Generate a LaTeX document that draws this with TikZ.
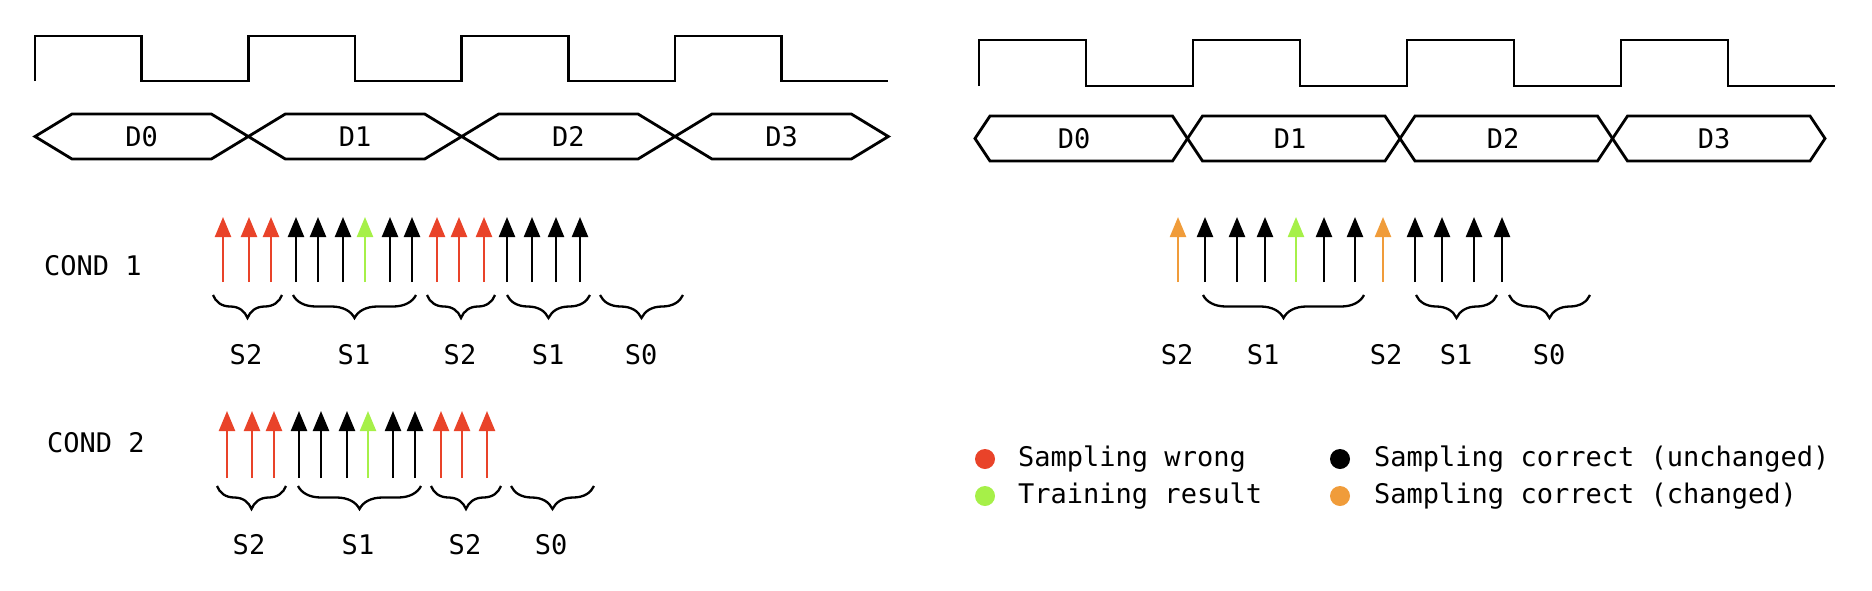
\documentclass[tikz,border=0pt]{standalone}
\usepackage{fontspec}
\setmonofont{DejaVu Sans Mono}
\usepackage{xcolor}
\usetikzlibrary{arrows.meta,decorations.pathreplacing}

\definecolor{wrongred}{RGB}{233,67,41}
\definecolor{trainlime}{RGB}{166,240,72}
\definecolor{changeorg}{RGB}{240,156,58}

\begin{document}
\begin{tikzpicture}[x=1pt,y=-1pt,
  sig/.style={line width=2.8pt, line join=miter},
  samp/.style={line width=2.3pt, -{Triangle[length=20pt,width=16pt]}},
  brc/.style={decorate, decoration={brace,mirror,amplitude=23pt}, line width=2.3pt},
  txt/.style={font=\ttfamily\fontsize{27}{31}\selectfont, inner sep=0pt}]

\useasboundingbox (0,0) rectangle (1872,590);

% Left panel: clock and data bus
\draw[sig] (35,81) \foreach \i in {1,...,4} { -- ++(0,-45) -- ++(106.67,0) -- ++(0,45) -- ++(106.67,0) };
\foreach \k in {0,...,3} {
  \draw[sig] ({35+213.33*\k},136.5) -- ++(37,-22.5) -- ++(139.33,0) -- ++(37,22.5)
    -- ++(-37,22.5) -- ++(-139.33,0) -- cycle;
  \node[txt] (ld\k) at ({141.7+213.33*\k},136.5) {D\k};
}

% COND 1 sampling points
\node[txt, anchor=west] (cond1) at (44,265.5) {COND 1};
\foreach \x/\col in {223/wrongred, 249/wrongred, 271/wrongred, 296/black, 318/black, 343/black,
    365/trainlime, 390/black, 412/black, 437/wrongred, 459/wrongred, 484/wrongred,
    507/black, 532/black, 556/black, 580/black}{
  \draw[samp, draw=\col] (\x,282) -- (\x,217);
}
\draw[brc] (213,295) -- (282,295);
\draw[brc] (293,295) -- (416,295);
\draw[brc] (427,295) -- (495,295);
\draw[brc] (507,295) -- (590,295);
\draw[brc] (600,295) -- (683,295);
\foreach \x/\s [count=\n] in {246/S2, 354/S1, 460/S2, 548/S1, 641/S0}
  \node[txt] (ca\n) at (\x,355) {\s};

% COND 2 sampling points
\node[txt, anchor=west] (cond2) at (47,443) {COND 2};
\foreach \x/\col in {227/wrongred, 252/wrongred, 274/wrongred, 299/black, 321/black, 347/black,
    368/trainlime, 393/black, 415/black, 441/wrongred, 462/wrongred, 487/wrongred}{
  \draw[samp, draw=\col] (\x,478) -- (\x,411);
}
\draw[brc] (217,486) -- (286,486);
\draw[brc] (298,486) -- (421,486);
\draw[brc] (431,486) -- (501,486);
\draw[brc] (511,486) -- (594,486);
\foreach \x/\s [count=\n] in {249/S2, 358/S1, 465/S2, 551/S0}
  \node[txt] (cb\n) at (\x,545) {\s};

% Right panel: clock and data bus
\draw[sig] (979,86) \foreach \i in {1,...,4} { -- ++(0,-46) -- ++(107,0) -- ++(0,46) -- ++(107,0) };
\foreach \k/\x in {0/1074, 1/1290, 2/1503, 3/1714} {
  \draw[sig] ({975+212.5*\k},138.5) -- ++(15,-22.5) -- ++(182.5,0) -- ++(15,22.5)
    -- ++(-15,22.5) -- ++(-182.5,0) -- cycle;
  \node[txt] (rd\k) at (\x,138.5) {D\k};
}

% Trained sampling points
\foreach \x/\col in {1178/changeorg, 1205/black, 1237/black, 1265/black, 1296/trainlime, 1324/black,
    1355/black, 1383/changeorg, 1415/black, 1442/black, 1474/black, 1502/black}{
  \draw[samp, draw=\col] (\x,282) -- (\x,217);
}
\draw[brc] (1203,295) -- (1364,295);
\draw[brc] (1416,295) -- (1497,295);
\draw[brc] (1509,295) -- (1590,295);
\foreach \x/\s [count=\n] in {1177/S2, 1263/S1, 1386/S2, 1456/S1, 1549/S0}
  \node[txt] (cr\n) at (\x,355) {\s};

% Legend
\fill[wrongred] (985,459) circle (10);
\fill[trainlime] (985,496) circle (10);
\fill[black] (1340,459) circle (10);
\fill[changeorg] (1340,496) circle (10);
\node[txt, anchor=west] (lgwrong) at (1018,459) {Sampling wrong};
\node[txt, anchor=west] (lgtrain) at (1018,496) {Training result};
\node[txt, anchor=west] (lgkeep) at (1374,459) {Sampling correct (unchanged)};
\node[txt, anchor=west] (lgchg) at (1374,496) {Sampling correct (changed)};

\end{tikzpicture}
\end{document}
